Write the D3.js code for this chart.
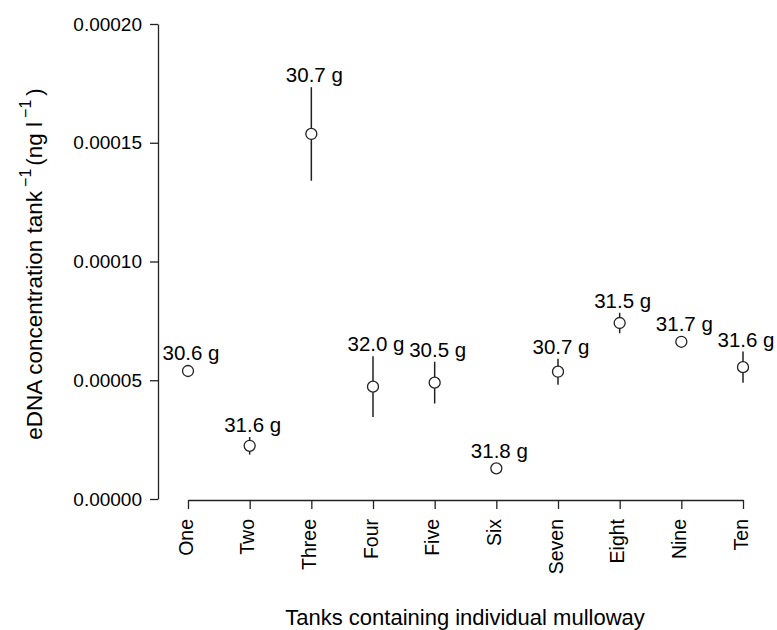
<!DOCTYPE html>
<html>
<head>
<meta charset="utf-8">
<script src="https://cdn.jsdelivr.net/npm/d3@7"></script>
<style>
  body { margin: 0; background: #fff; }
  svg text { font-family: "Liberation Sans", Arial, sans-serif; fill: #000; }
  .axis path, .axis line { stroke: #222; stroke-width: 1.3px; }
</style>
</head>
<body>
<svg id="chart" width="777" height="630"></svg>
<script>
// Data
const tanks = ["One", "Two", "Three", "Four", "Five", "Six", "Seven", "Eight", "Nine", "Ten"];
const fishMass = ["30.6 g", "31.6 g", "30.7 g", "32.0 g", "30.5 g", "31.8 g", "30.7 g", "31.5 g", "31.7 g", "31.6 g"];
const meanConc = [0.0000539, 0.0000224, 0.0001537, 0.0000473, 0.0000490, 0.0000129, 0.0000536, 0.0000741, 0.0000662, 0.0000555];
const seConc = [0.0000012, 0.0000037, 0.0000197, 0.0000128, 0.0000088, 0.0000010, 0.0000055, 0.0000043, 0.0000010, 0.0000066];
const yTicks = [0, 0.00005, 0.0001, 0.00015, 0.0002];

const svg = d3.select("#chart");
const data = tanks.map((t, i) => ({ tank: t, label: fishMass[i], mean: meanConc[i], se: seConc[i] }));
const r = 5.5;

const x = d3.scalePoint()
  .domain(tanks)
  .range([188, 743]);

const y = d3.scaleLinear()
  .domain([0, 0.0002])
  .range([499, 24]);

// y axis
const yAxis = svg.append("g")
  .attr("class", "axis")
  .attr("transform", "translate(158,0)")
  .call(d3.axisLeft(y).tickValues(yTicks).tickFormat(d3.format(".5f")).tickSize(8).tickPadding(8).tickSizeOuter(0));
yAxis.selectAll("text").style("font-size", "19px");

// x axis
const xAxis = svg.append("g")
  .attr("class", "axis")
  .attr("transform", "translate(0,500)")
  .call(d3.axisBottom(x).tickSize(9).tickSizeOuter(0));
xAxis.selectAll("text")
  .style("font-size", "19.5px")
  .attr("text-anchor", "end")
  .attr("transform", "rotate(-90)")
  .attr("x", -19)
  .attr("y", 0)
  .attr("dy", "4px");

// error bars
svg.selectAll("line.err")
  .data(data)
  .enter()
  .append("line")
  .attr("class", "err")
  .attr("x1", d => x(d.tank))
  .attr("x2", d => x(d.tank))
  .attr("y1", d => y(d.mean - d.se))
  .attr("y2", d => y(d.mean + d.se))
  .attr("stroke", "#222")
  .attr("stroke-width", 1.5);

// points
svg.selectAll("circle")
  .data(data)
  .enter()
  .append("circle")
  .attr("cx", d => x(d.tank))
  .attr("cy", d => y(d.mean))
  .attr("r", r)
  .attr("fill", "#fff")
  .attr("stroke", "#222")
  .attr("stroke-width", 1.3);

// mass labels above each tank
svg.selectAll("text.mass")
  .data(data)
  .enter()
  .append("text")
  .attr("class", "mass")
  .attr("x", d => x(d.tank) + 3)
  .attr("y", d => Math.min(y(d.mean + d.se), y(d.mean) - r) - 5)
  .attr("text-anchor", "middle")
  .style("font-size", "20.5px")
  .text(d => d.label);

// axis titles
svg.append("text")
  .attr("x", 465).attr("y", 625)
  .attr("text-anchor", "middle")
  .style("font-size", "22px")
  .text("Tanks containing individual mulloway");

const yTitle = svg.append("text")
  .attr("transform", "translate(42,264) rotate(-90)")
  .attr("text-anchor", "middle")
  .style("font-size", "22.5px");
yTitle.append("tspan").text("eDNA concentration tank");
yTitle.append("tspan").attr("dx", 4).attr("dy", -11).style("font-size", "16px").text("\u22121");
yTitle.append("tspan").attr("dx", 3).attr("dy", 11).text("(ng l");
yTitle.append("tspan").attr("dx", 4).attr("dy", -11).style("font-size", "16px").text("\u22121");
yTitle.append("tspan").attr("dx", 4).attr("dy", 11).text(")");
</script>
</body>
</html>
